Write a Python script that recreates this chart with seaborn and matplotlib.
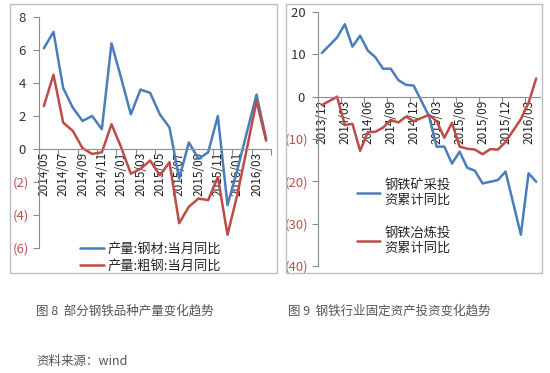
import numpy as np
import pandas as pd
import matplotlib
matplotlib.use("Agg")
import matplotlib.pyplot as plt
from matplotlib.patches import Rectangle
import seaborn as sns

# datos figura 8: produccion, variacion interanual del mes (%)
meses_prod = ["2014/05", "2014/06", "2014/07", "2014/08", "2014/09", "2014/10",
              "2014/11", "2014/12", "2015/01", "2015/02", "2015/03", "2015/04",
              "2015/05", "2015/06", "2015/07", "2015/08", "2015/09", "2015/10",
              "2015/11", "2015/12", "2016/01", "2016/02", "2016/03", "2016/04"]
gangcai = [6.1, 7.1, 3.7, 2.5, 1.7, 2.0, 1.2, 6.4, 4.3, 2.1, 3.6, 3.4,
           2.1, 1.3, -1.8, 0.4, -0.6, -0.2, 2.0, -3.4, -1.3, 1.0, 3.3, 0.6]
cugang = [2.6, 4.5, 1.6, 1.1, 0.05, -0.3, -0.2, 1.5, 0.1, -1.5, -1.2, -0.7,
          -1.6, -0.8, -4.5, -3.5, -3.0, -3.1, -1.7, -5.2, -2.8, 0.0, 2.9, 0.5]

# datos figura 9: inversion en activos fijos, acumulado interanual (%), enero sin dato
meses_inv = ["2013/12", "2014/01", "2014/02", "2014/03", "2014/04", "2014/05",
             "2014/06", "2014/07", "2014/08", "2014/09", "2014/10", "2014/11",
             "2014/12", "2015/01", "2015/02", "2015/03", "2015/04", "2015/05",
             "2015/06", "2015/07", "2015/08", "2015/09", "2015/10", "2015/11",
             "2015/12", "2016/01", "2016/02", "2016/03", "2016/04"]
kuangcai = [10.3, None, 14.0, 17.1, 11.8, 14.4, 10.9, 9.3, 6.6, 6.6, 3.9, 2.8,
            2.6, None, -4.6, -11.8, -11.8, -15.8, -13.0, -16.8, -17.5, -20.5,
            -20.1, -19.7, -17.7, None, -32.6, -18.1, -20.1]
yelian = [-2.0, None, 0.0, -6.7, -6.4, -12.8, -8.4, -8.3, -7.3, -5.5, -6.1, -4.7,
          -5.8, None, -4.3, -5.8, -9.7, -6.2, -11.8, -12.3, -12.5, -13.6,
          -12.4, -12.5, -10.7, None, -5.3, -1.5, 4.3]

azul = "#4A7EBB"
rojo = "#BE4B48"
gris = "#8C8C8C"

sns.set_theme(style="white")
plt.rcParams["font.family"] = ["Noto Sans CJK SC", "DejaVu Sans"]

W, H = 550, 373
fig = plt.figure(figsize=(5.5, 3.73), dpi=100)


def caja(x0, y0, x1, y1):
    # rectangulo en pixeles (origen arriba a la izquierda)
    return [x0 / W, 1 - y1 / H, (x1 - x0) / W, (y1 - y0) / H]


def etiqueta(v):
    return f"({abs(int(v))})" if v < 0 else str(int(v)) + " "


def preparar_ejes(ax, ymin, ymax, ypaso, n, paso_x, meses):
    ax.set_xlim(-0.5, n - 0.5)
    ax.set_ylim(ymin, ymax)
    for lado in ["top", "right"]:
        ax.spines[lado].set_visible(False)
    ax.spines["left"].set_color(gris)
    ax.spines["left"].set_linewidth(0.8)
    ax.spines["bottom"].set_position(("data", 0))
    ax.spines["bottom"].set_color(gris)
    ax.spines["bottom"].set_linewidth(0.8)
    yt = np.arange(ymin, ymax + ypaso, ypaso)
    ax.set_yticks(yt)
    ax.set_yticklabels([etiqueta(v) for v in yt], fontsize=9.5)
    for t, v in zip(ax.get_yticklabels(), yt):
        t.set_color("#C0504D" if v < 0 else "#333333")
    ax.set_xticks(np.arange(-0.5, n, paso_x))
    ax.set_xticklabels([])
    pos = np.arange(0, n, paso_x)
    ax.set_xticks(pos, minor=True)
    ax.set_xticklabels([meses[i] for i in pos], minor=True, rotation=90,
                       fontsize=8.5, color="#222222", va="top")
    ax.tick_params(axis="x", which="major", direction="out", length=4,
                   color=gris, width=0.8, bottom=True)
    ax.tick_params(axis="x", which="minor", length=0, pad=2, bottom=True)
    ax.tick_params(axis="y", direction="out", length=4, color=gris,
                   width=0.8, left=True, pad=3)
    ax.set_xlabel("")
    ax.set_ylabel("")
    ax.patch.set_alpha(0)


# marcos de los dos graficos
for x0, x1 in [(10, 277), (286, 542)]:
    fig.patches.append(Rectangle((x0 / W, 1 - 273 / H), (x1 - x0) / W, 269 / H,
                                 transform=fig.transFigure, fill=False,
                                 edgecolor="#BDBDBD", linewidth=1.0))

# figura 8
ax1 = fig.add_axes(caja(39, 17, 271, 248))
df1 = pd.DataFrame({"x": np.arange(len(meses_prod)), "gangcai": gangcai, "cugang": cugang})
sns.lineplot(data=df1, x="x", y="gangcai", color=azul, linewidth=1.8, ax=ax1,
             label="产量:钢材:当月同比")
sns.lineplot(data=df1, x="x", y="cugang", color=rojo, linewidth=1.8, ax=ax1,
             label="产量:粗钢:当月同比")
preparar_ejes(ax1, -6, 8, 2, len(meses_prod), 2, meses_prod)
ax1.legend(loc="upper left", bbox_to_anchor=(0.155, 0.045), frameon=False,
           fontsize=9.5, handlelength=1.8, handletextpad=0.25, labelspacing=0.28,
           borderaxespad=0)

# figura 9
ax2 = fig.add_axes(caja(318, 12, 540, 266))
df2 = pd.DataFrame({"x": np.arange(len(meses_inv)), "kuangcai": kuangcai, "yelian": yelian})
d_k = df2[["x", "kuangcai"]].dropna()
d_y = df2[["x", "yelian"]].dropna()
sns.lineplot(data=d_k, x="x", y="kuangcai", color=azul, linewidth=1.8, ax=ax2,
             label="钢铁矿采投\n资累计同比")
sns.lineplot(data=d_y, x="x", y="yelian", color=rojo, linewidth=1.8, ax=ax2,
             label="钢铁冶炼投\n资累计同比")
preparar_ejes(ax2, -40, 20, 10, len(meses_inv), 3, meses_inv)
ax2.legend(loc="upper left", bbox_to_anchor=(0.15, 0.365), frameon=False,
           fontsize=9.5, handlelength=1.8, handletextpad=0.3, labelspacing=1.55,
           borderaxespad=0)

# textos de pie
fig.text(36 / W, 1 - 311 / H, "图 8  部分钢铁品种产量变化趋势", fontsize=9,
         color="#555555", va="center")
fig.text(288 / W, 1 - 311 / H, "图 9  钢铁行业固定资产投资变化趋势", fontsize=9,
         color="#555555", va="center")
fig.text(36 / W, 1 - 361 / H, "资料来源：wind", fontsize=9, color="#555555",
         va="center")

fig.savefig("out.png", dpi=100)
